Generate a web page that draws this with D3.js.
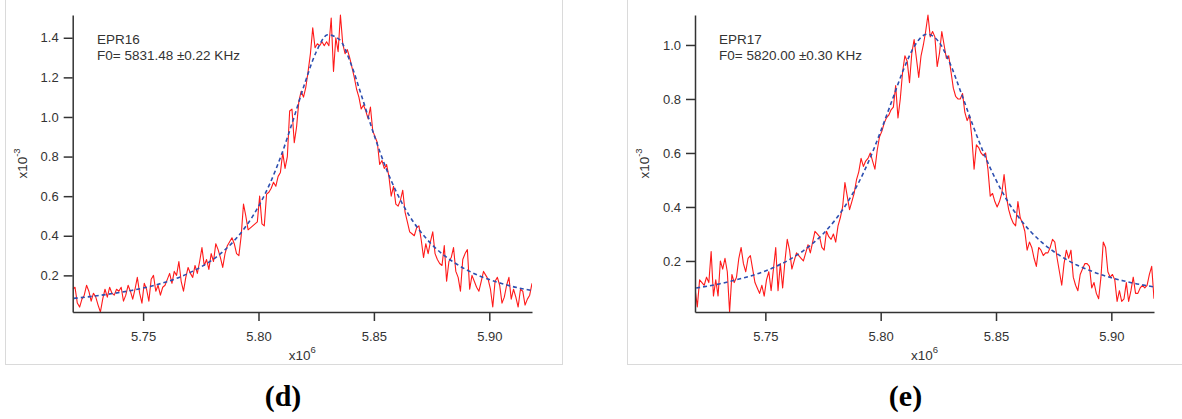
<!DOCTYPE html>
<html>
<head>
<meta charset="utf-8">
<script src="https://cdn.jsdelivr.net/npm/d3@7"></script>
<style>
  body { margin: 0; background: #fff; }
  svg { display: block; }
  .tick text { font-family: "Liberation Sans", Arial, sans-serif; font-size: 13px; fill: #333; }
  .axis path, .axis line { stroke: #333; stroke-width: 1.5; }
  .note { font-family: "Liberation Sans", Arial, sans-serif; font-size: 13.5px; fill: #333; }
  .sub { font-family: "Liberation Serif", "Times New Roman", serif; font-size: 30px; font-weight: bold; fill: #000; }
</style>
</head>
<body>
<div id="chart"></div>
<script>
// sampling grid of the measured traces (x10^6)
const freqStart = 5.7195;
const freqStep = 0.001;
// sampling grid of the fit curves
const fitStart = 5.720;
const fitStep = 0.005;

const xTicks = [5.75, 5.80, 5.85, 5.90];
const yTicks16 = [0.2, 0.4, 0.6, 0.8, 1.0, 1.2, 1.4];
const yTicks17 = [0.2, 0.4, 0.6, 0.8, 1.0];

const epr16Signal = [
  0.13, 0.14, 0.06, 0.04, 0.08, 0.10, 0.15, 0.12, 0.07, 0.11,
  0.09, 0.05, 0.015, 0.08, 0.13, 0.09, 0.14, 0.11, 0.10, 0.13,
  0.12, 0.14, 0.07, 0.10, 0.15, 0.12, 0.08, 0.13, 0.19, 0.11,
  0.06, 0.16, 0.13, 0.07, 0.18, 0.20, 0.12, 0.15, 0.10, 0.14,
  0.15, 0.18, 0.21, 0.16, 0.22, 0.20, 0.27, 0.17, 0.12, 0.19,
  0.24, 0.21, 0.19, 0.25, 0.21, 0.27, 0.34, 0.25, 0.28, 0.23,
  0.31, 0.27, 0.36, 0.33, 0.29, 0.24, 0.31, 0.35, 0.37, 0.39,
  0.36, 0.31, 0.30, 0.40, 0.56, 0.50, 0.43, 0.44, 0.45, 0.46,
  0.47, 0.60, 0.46, 0.45, 0.61, 0.62, 0.64, 0.67, 0.65, 0.70,
  0.72, 0.82, 0.74, 0.80, 1.03, 1.04, 0.87, 0.95, 1.08, 1.13,
  1.10, 1.15, 1.23, 1.32, 1.45, 1.35, 1.37, 1.36, 1.38, 1.36,
  1.38, 1.36, 1.50, 1.23, 1.40, 1.33, 1.515, 1.37, 1.32, 1.34,
  1.30, 1.25, 1.20, 1.14, 1.10, 1.04, 1.06, 1.03, 0.99, 1.05,
  0.93, 0.90, 0.87, 0.76, 0.78, 0.74, 0.76, 0.70, 0.60, 0.65,
  0.56, 0.55, 0.58, 0.63, 0.52, 0.47, 0.42, 0.41, 0.40, 0.44,
  0.45, 0.38, 0.29, 0.36, 0.31, 0.37, 0.42, 0.31, 0.28, 0.26,
  0.25, 0.35, 0.17, 0.27, 0.29, 0.34, 0.22, 0.19, 0.12, 0.28,
  0.31, 0.33, 0.13, 0.20, 0.17, 0.14, 0.12, 0.17, 0.22, 0.20,
  0.18, 0.13, 0.04, 0.17, 0.19, 0.15, 0.06, 0.09, 0.15, 0.19,
  0.08, 0.13, 0.09, 0.04, 0.13, 0.12, 0.05, 0.08, 0.10, 0.16
];
const epr16Fit = [
  0.084, 0.090, 0.097, 0.105, 0.114, 0.124, 0.136, 0.150, 0.167, 0.187,
  0.212, 0.242, 0.278, 0.324, 0.382, 0.455, 0.548, 0.665, 0.811, 0.984,
  1.168, 1.328, 1.415, 1.392, 1.270, 1.094, 0.912, 0.749, 0.615, 0.508,
  0.424, 0.357, 0.305, 0.263, 0.229, 0.201, 0.179, 0.160, 0.144, 0.131,
  0.120
];

const epr17Signal = [
  0.10, 0.03, 0.13, 0.12, 0.11, 0.14, 0.12, 0.235, 0.07, 0.13,
  0.07, 0.20, 0.17, 0.21, 0.16, 0.011, 0.15, 0.12, 0.14, 0.21,
  0.25, 0.19, 0.16, 0.21, 0.22, 0.17, 0.12, 0.10, 0.08, 0.11,
  0.07, 0.13, 0.16, 0.09, 0.17, 0.25, 0.09, 0.19, 0.10, 0.20,
  0.28, 0.24, 0.17, 0.20, 0.23, 0.22, 0.21, 0.20, 0.23, 0.26,
  0.23, 0.27, 0.31, 0.30, 0.29, 0.25, 0.24, 0.31, 0.29, 0.28,
  0.30, 0.27, 0.33, 0.36, 0.40, 0.49, 0.44, 0.39, 0.42, 0.45,
  0.50, 0.53, 0.58, 0.55, 0.57, 0.58, 0.60, 0.57, 0.54, 0.61,
  0.66, 0.68, 0.71, 0.73, 0.74, 0.76, 0.77, 0.85, 0.73, 0.80,
  0.90, 0.96, 0.94, 0.86, 0.97, 1.02, 0.95, 0.88, 0.96, 1.00,
  1.05, 1.111, 1.03, 1.05, 1.03, 0.92, 0.97, 1.05, 1.00, 0.95,
  0.96, 0.90, 0.84, 0.81, 0.80, 0.80, 0.82, 0.75, 0.72, 0.74,
  0.66, 0.54, 0.63, 0.62, 0.60, 0.59, 0.60, 0.54, 0.44, 0.45,
  0.42, 0.40, 0.42, 0.45, 0.52, 0.44, 0.39, 0.36, 0.34, 0.33,
  0.42, 0.36, 0.34, 0.31, 0.24, 0.27, 0.25, 0.21, 0.18, 0.25,
  0.24, 0.22, 0.23, 0.23, 0.25, 0.28, 0.27, 0.21, 0.16, 0.11,
  0.19, 0.24, 0.21, 0.24, 0.14, 0.11, 0.09, 0.15, 0.17, 0.19,
  0.19, 0.18, 0.10, 0.12, 0.08, 0.06, 0.14, 0.27, 0.25, 0.16,
  0.14, 0.15, 0.13, 0.05, 0.09, 0.05, 0.06, 0.12, 0.05, 0.09,
  0.14, 0.08, 0.08, 0.10, 0.11, 0.10, 0.11, 0.15, 0.18, 0.06
];
const epr17Fit = [
  0.100, 0.107, 0.115, 0.125, 0.136, 0.148, 0.163, 0.181, 0.203, 0.229,
  0.261, 0.300, 0.349, 0.409, 0.483, 0.573, 0.680, 0.796, 0.911, 1.001,
  1.040, 1.014, 0.933, 0.820, 0.702, 0.593, 0.500, 0.422, 0.360, 0.309,
  0.268, 0.235, 0.208, 0.185, 0.167, 0.151, 0.138, 0.127, 0.117, 0.109,
  0.102
];

const panels = [
  { id: "d", name: "EPR16", f0: "F0= 5831.48 \u00b10.22 KHz", signal: epr16Signal, fit: epr16Fit, yTicks: yTicks16,
    frameX: 5.5, left: 72.7, right: 532, yLabelX: 27, noteX: 97, subX: 283 },
  { id: "e", name: "EPR17", f0: "F0= 5820.00 \u00b10.30 KHz", signal: epr17Signal, fit: epr17Fit, yTicks: yTicks17,
    frameX: 627.5, left: 695, right: 1154, yLabelX: 649, noteX: 719, subX: 905.5 }
];

const W = 1182, H = 419;
const plotTop = 15, plotBottom = 312;

const svg = d3.select("#chart").append("svg").attr("width", W).attr("height", H);

panels.forEach((p) => {
  const sig = p.signal.map((v, i) => ({ x: freqStart + i * freqStep, y: v }));
  const fit = p.fit.map((v, i) => ({ x: fitStart + i * fitStep, y: v }));

  // Igor-like autoscale: axes span exactly the data range
  const xScale = d3.scaleLinear().domain(d3.extent(sig, d => d.x)).range([p.left, p.right]);
  const yScale = d3.scaleLinear().domain(d3.extent(sig, d => d.y)).range([plotBottom, plotTop]);

  // panel frame (top edge is cut off by the page)
  svg.append("rect")
    .attr("x", p.frameX).attr("y", -10)
    .attr("width", 557).attr("height", 374.5)
    .attr("fill", "none").attr("stroke", "#dadada").attr("stroke-width", 1);

  svg.append("clipPath").attr("id", "clip-" + p.id)
    .append("rect")
    .attr("x", p.left).attr("y", plotTop - 2)
    .attr("width", p.right - p.left).attr("height", plotBottom - plotTop + 2);

  const plot = svg.append("g").attr("clip-path", `url(#clip-${p.id})`);

  plot.append("path")
    .datum(sig)
    .attr("fill", "none")
    .attr("stroke", "#ff1a1a")
    .attr("stroke-width", 1.1)
    .attr("stroke-linejoin", "round")
    .attr("d", d3.line().x(d => xScale(d.x)).y(d => yScale(d.y)));

  plot.append("path")
    .datum(fit)
    .attr("fill", "none")
    .attr("stroke", "#2d4fb0")
    .attr("stroke-width", 1.6)
    .attr("stroke-dasharray", "4,3")
    .attr("d", d3.line().curve(d3.curveMonotoneX).x(d => xScale(d.x)).y(d => yScale(d.y)));

  // axes
  svg.append("g")
    .attr("class", "axis")
    .attr("transform", `translate(0,${plotBottom})`)
    .call(d3.axisBottom(xScale).tickValues(xTicks).tickFormat(d3.format(".2f"))
      .tickSize(9).tickSizeOuter(0).tickPadding(10.5));

  svg.append("g")
    .attr("class", "axis")
    .attr("transform", `translate(${p.left},0)`)
    .call(d3.axisLeft(yScale).tickValues(p.yTicks).tickFormat(d3.format(".1f"))
      .tickSize(9).tickSizeOuter(0).tickPadding(5));

  // axis unit labels
  const yl = svg.append("text")
    .attr("class", "note")
    .attr("text-anchor", "middle")
    .attr("transform", `translate(${p.yLabelX},${(plotTop + plotBottom) / 2}) rotate(-90)`);
  yl.append("tspan").text("x10");
  yl.append("tspan").attr("dy", -7).attr("font-size", 9.5).text("-3");

  const xl = svg.append("text")
    .attr("class", "note")
    .attr("text-anchor", "middle")
    .attr("x", (p.left + p.right) / 2)
    .attr("y", 360);
  xl.append("tspan").text("x10");
  xl.append("tspan").attr("dy", -7).attr("font-size", 9.5).text("6");

  // fit annotation
  svg.append("text").attr("class", "note").attr("x", p.noteX).attr("y", 43.5).text(p.name);
  svg.append("text").attr("class", "note").attr("x", p.noteX).attr("y", 60).text(p.f0);

  // sub-figure caption
  svg.append("text").attr("class", "sub")
    .attr("text-anchor", "middle")
    .attr("x", p.subX).attr("y", 406)
    .text(`(${p.id})`);
});
</script>
</body>
</html>
